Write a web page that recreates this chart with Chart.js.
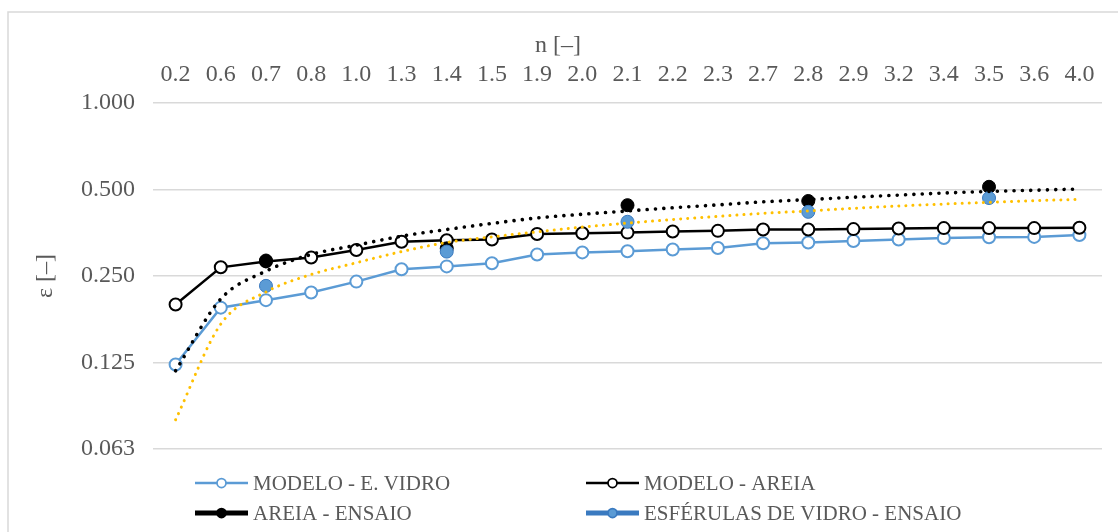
<!DOCTYPE html>
<html>
<head>
<meta charset="utf-8">
<script src="https://cdn.jsdelivr.net/npm/chart.js@4/dist/chart.umd.min.js"></script>
<style>
  html, body { margin: 0; padding: 0; background: #ffffff; }
  #wrap { width: 1118px; height: 532px; }
</style>
</head>
<body>
<div id="wrap"><canvas id="chart" width="1118" height="532"></canvas></div>
<script>
// n [–] categories
const categories = ['0.2','0.6','0.7','0.8','1.0','1.3','1.4','1.5','1.9','2.0','2.1','2.2','2.3','2.7','2.8','2.9','3.2','3.4','3.5','3.6','4.0'];

// model curves, ε [–]
const modeloVidro = [0.123,0.194,0.206,0.219,0.239,0.264,0.270,0.277,0.297,0.302,0.305,0.309,0.313,0.325,0.327,0.331,0.335,0.339,0.341,0.342,0.347];
const modeloAreia = [0.199,0.268,0.281,0.290,0.308,0.329,0.333,0.335,0.350,0.352,0.354,0.357,0.359,0.363,0.363,0.364,0.366,0.367,0.367,0.367,0.368];

// test results (only at n = 0.7, 1.4, 2.1, 2.8, 3.5)
const areiaEnsaio = [null,null,0.283,null,null,null,0.312,null,null,null,0.441,null,null,null,0.456,null,null,null,0.511,null,null];
const esferulasEnsaio = [null,null,0.231,null,null,null,0.304,null,null,null,0.386,null,null,null,0.418,null,null,null,0.467,null,null];

// trend curves of the test results
const tendAreia = [0.117,0.208,0.260,0.297,0.320,0.344,0.363,0.381,0.398,0.410,0.421,0.432,0.442,0.453,0.461,0.470,0.478,0.486,0.492,0.497,0.502];
const tendEsferulas = [0.079,0.170,0.220,0.253,0.278,0.304,0.327,0.342,0.356,0.370,0.382,0.393,0.403,0.413,0.421,0.430,0.438,0.445,0.451,0.457,0.462];

// y axis (log2)
const yTickValues = [0.0625, 0.125, 0.25, 0.5, 1];
const yTickLabels = ['0.063', '0.125', '0.250', '0.500', '1.000'];

const xTitle = 'n [–]';
const yTitle = 'ε [–]';

const FONT = "'Liberation Serif', 'Times New Roman', serif";
const TEXT = '#595959';
const BLUE = '#5B9BD5';
const BLUE_DARK = '#3A7AC0';

// frame, x-axis title and two-column legend
const decor = {
  id: 'decor',
  beforeDraw(chart) {
    const ctx = chart.ctx;
    ctx.save();
    ctx.fillStyle = '#ffffff';
    ctx.fillRect(0, 0, chart.width, chart.height);
    ctx.strokeStyle = '#D9D9D9';
    ctx.lineWidth = 1.5;
    ctx.beginPath();
    ctx.moveTo(8, chart.height);
    ctx.lineTo(8, 12);
    ctx.lineTo(chart.width, 12);
    ctx.stroke();
    ctx.restore();
  },
  afterDraw(chart) {
    const ctx = chart.ctx;
    ctx.save();
    ctx.fillStyle = TEXT;
    ctx.font = '24px ' + FONT;
    ctx.textAlign = 'center';
    ctx.textBaseline = 'middle';
    ctx.fillText(xTitle, 558, 46);

    const cols = [195, 586];
    const rows = [483, 513];
    const lineLen = 53;
    chart.data.datasets.forEach((ds, i) => {
      if (!ds.legendStyle) return;
      const x = cols[i % 2];
      const y = rows[Math.floor(i / 2)];
      const st = ds.legendStyle;
      ctx.strokeStyle = st.line;
      ctx.lineWidth = st.lineWidth;
      ctx.lineCap = 'butt';
      ctx.beginPath();
      ctx.moveTo(x, y);
      ctx.lineTo(x + lineLen, y);
      ctx.stroke();
      ctx.beginPath();
      ctx.arc(x + lineLen / 2, y, 4.5, 0, Math.PI * 2);
      ctx.fillStyle = st.fill;
      ctx.fill();
      ctx.lineWidth = 1.75;
      ctx.strokeStyle = st.stroke;
      ctx.stroke();
      ctx.fillStyle = TEXT;
      ctx.font = '21px ' + FONT;
      ctx.textAlign = 'left';
      ctx.textBaseline = 'middle';
      ctx.fillText(ds.label, x + 58, y + 1);
    });
    ctx.restore();
  }
};

new Chart(document.getElementById('chart'), {
  type: 'line',
  data: {
    labels: categories,
    datasets: [
      {
        label: 'MODELO - E. VIDRO',
        data: modeloVidro,
        borderColor: BLUE, borderWidth: 2.5,
        pointRadius: 6, pointBorderWidth: 2,
        pointBackgroundColor: '#ffffff', pointBorderColor: BLUE,
        order: 6,
        legendStyle: { line: BLUE, lineWidth: 2.5, fill: '#ffffff', stroke: BLUE }
      },
      {
        label: 'MODELO - AREIA',
        data: modeloAreia,
        borderColor: '#000000', borderWidth: 2.5,
        pointRadius: 6, pointBorderWidth: 2,
        pointBackgroundColor: '#ffffff', pointBorderColor: '#000000',
        order: 5,
        legendStyle: { line: '#000000', lineWidth: 2.5, fill: '#ffffff', stroke: '#000000' }
      },
      {
        label: 'AREIA - ENSAIO',
        data: areiaEnsaio,
        borderColor: '#000000', borderWidth: 5, spanGaps: false,
        pointRadius: 6.5, pointBorderWidth: 1,
        pointBackgroundColor: '#000000', pointBorderColor: '#000000',
        order: 4,
        legendStyle: { line: '#000000', lineWidth: 5, fill: '#000000', stroke: '#000000' }
      },
      {
        label: 'ESFÉRULAS DE VIDRO - ENSAIO',
        data: esferulasEnsaio,
        borderColor: BLUE_DARK, borderWidth: 5, spanGaps: false,
        pointRadius: 6.5, pointBorderWidth: 1,
        pointBackgroundColor: BLUE, pointBorderColor: BLUE_DARK,
        order: 3,
        legendStyle: { line: BLUE_DARK, lineWidth: 5, fill: BLUE, stroke: BLUE_DARK }
      },
      {
        label: 'Tendência - areia',
        data: tendAreia,
        borderColor: '#000000', borderWidth: 3.6,
        borderDash: [0.05, 8.3], borderCapStyle: 'round',
        pointRadius: 0, cubicInterpolationMode: 'monotone',
        order: 1
      },
      {
        label: 'Tendência - esférulas',
        data: tendEsferulas,
        borderColor: '#FFC000', borderWidth: 3,
        borderDash: [0.05, 7], borderCapStyle: 'round',
        pointRadius: 0, cubicInterpolationMode: 'monotone',
        order: 2
      }
    ]
  },
  options: {
    responsive: false,
    animation: false,
    devicePixelRatio: 1,
    layout: { padding: { top: 12, left: 10, right: 16, bottom: 83 } },
    plugins: { legend: { display: false }, tooltip: { enabled: false } },
    scales: {
      x: {
        type: 'category',
        position: 'top',
        offset: true,
        grid: { display: false, drawTicks: false },
        border: { display: false },
        ticks: {
          color: TEXT, font: { family: FONT, size: 24 },
          padding: 14, maxRotation: 0, autoSkip: false
        },
        afterFit(s) { s.height = 91; }
      },
      y: {
        type: 'logarithmic',
        min: yTickValues[0],
        max: yTickValues[yTickValues.length - 1],
        grid: { color: '#D9D9D9', lineWidth: 1.5, drawTicks: false },
        border: { display: false },
        afterBuildTicks(s) { s.ticks = yTickValues.map(v => ({ value: v })); },
        ticks: {
          color: TEXT, font: { family: FONT, size: 24 }, padding: 18,
          callback(v) { const i = yTickValues.indexOf(v); return i >= 0 ? yTickLabels[i] : ''; }
        },
        title: {
          display: true, text: yTitle, color: TEXT,
          font: { family: FONT, size: 24 }, padding: { top: 21, bottom: 0 }
        },
        afterFit(s) { s.width = 143; }
      }
    }
  },
  plugins: [decor]
});
</script>
</body>
</html>
